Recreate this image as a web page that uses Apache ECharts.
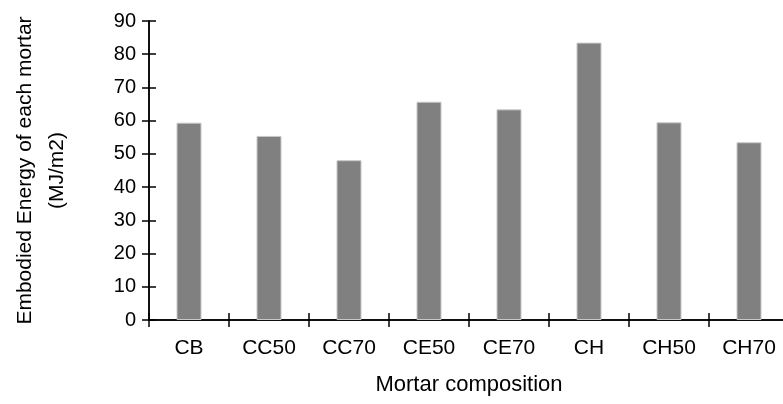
<!DOCTYPE html>
<html>
<head>
<meta charset="utf-8">
<script src="https://cdn.jsdelivr.net/npm/echarts@6/dist/echarts.min.js"></script>
<style>html,body{margin:0;padding:0;background:#fff}#c{width:783px;height:404px}</style>
</head>
<body>
<div id="c"></div>
<script>
var categories = ['CB', 'CC50', 'CC70', 'CE50', 'CE70', 'CH', 'CH50', 'CH70'];
var energyValues = [59.4, 55.4, 48.1, 65.7, 63.4, 83.5, 59.5, 53.5];
var yTicks = {min: 0, max: 90, interval: 10};
var xTitle = 'Mortar composition';
var yTitle = 'Embodied Energy of each mortar\n(MJ/m2)';

var FONT = '"Liberation Sans Narrow", "Arial Narrow", "Liberation Sans", Arial, sans-serif';
var chart = echarts.init(document.getElementById('c'), null, {renderer: 'canvas'});
var axisLine = {show: true, lineStyle: {color: '#000', width: 1.5}};
chart.setOption({
  animation: false,
  backgroundColor: '#fff',
  grid: {left: 149, top: 21, width: 640, height: 299, containLabel: false, outerBoundsMode: 'none'},
  xAxis: [{
    type: 'category', data: categories, position: 'bottom',
    axisLine: axisLine,
    axisTick: {show: true, alignWithLabel: false, length: 7, lineStyle: {color: '#000', width: 1.5}},
    axisLabel: {color: '#000', fontFamily: FONT, fontSize: 21, margin: 18},
    name: xTitle, nameLocation: 'middle', nameGap: 54,
    nameTextStyle: {color: '#000', fontFamily: FONT, fontSize: 22},
    splitLine: {show: false}
  }, {
    type: 'category', data: categories, position: 'bottom',
    axisLine: axisLine,
    axisTick: {show: true, inside: true, length: 7, lineStyle: {color: '#000', width: 1.5}},
    axisLabel: {show: false}, splitLine: {show: false}
  }],
  yAxis: [{
    type: 'value', min: yTicks.min, max: yTicks.max, interval: yTicks.interval,
    axisLine: axisLine,
    axisTick: {show: true, length: 7, lineStyle: {color: '#000', width: 1.5}},
    axisLabel: {color: '#000', fontFamily: FONT, fontSize: 20, margin: 13},
    splitLine: {show: false},
    name: yTitle, nameLocation: 'middle', nameGap: 76, nameRotate: 90,
    nameTextStyle: {color: '#000', fontFamily: FONT, fontSize: 21, lineHeight: 32, align: 'center'}
  }, {
    type: 'value', min: yTicks.min, max: yTicks.max, interval: yTicks.interval, position: 'left',
    axisLine: axisLine,
    axisTick: {show: true, inside: true, length: 7, lineStyle: {color: '#000', width: 1.5}},
    axisLabel: {show: false}, splitLine: {show: false}
  }],
  series: [{
    type: 'bar', xAxisIndex: 0, yAxisIndex: 0, data: energyValues,
    barWidth: 25,
    itemStyle: {color: '#808080', borderColor: '#c8c8c8', borderWidth: 1}
  }]
});
</script>
</body>
</html>
